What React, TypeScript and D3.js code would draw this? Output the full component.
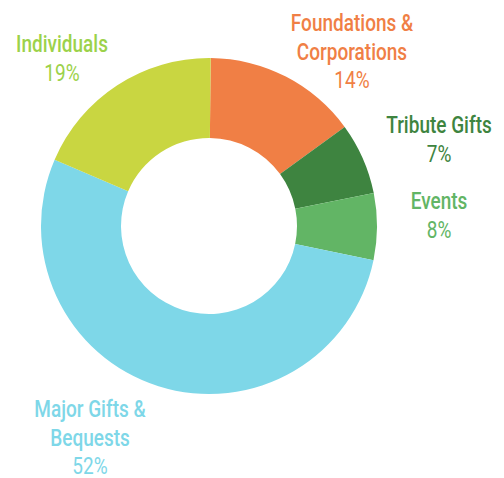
import React, { useEffect, useRef } from "react";
import * as d3 from "d3";

const categories = ["Foundations & Corporations", "Tribute Gifts", "Events", "Major Gifts & Bequests", "Individuals"];
const labelLines = [["Foundations &", "Corporations"], ["Tribute Gifts"], ["Events"], ["Major Gifts &", "Bequests"], ["Individuals"]];
const values = [14.8, 6.9, 6.4, 53.2, 18.7];
const pctLabels = ["14%", "7%", "8%", "52%", "19%"];
const sliceColors = ["#F07F45", "#3E8440", "#62B565", "#7ED7E8", "#C9D641"];
const textColors = ["#F07F45", "#3E8440", "#62B565", "#7ED7E8", "#9CD24A"];

const W = 504, H = 478;
const CX = 209, CY = 226, R_OUT = 168, R_IN = 88;
// label anchors (center x, first baseline y)
const labelAnchors: [number, number][] = [[352, 31], [439, 133], [439, 209], [90, 417], [62, 52]];
const LINE_H = 28.5;
const FONT = "Roboto, 'Noto Sans', sans-serif";
const FS = 23.5;

export default function App() {
  const ref = useRef<SVGSVGElement>(null);
  useEffect(() => {
    document.body.style.margin = "0";
    const svg = d3.select(ref.current);
    svg.selectAll("*").remove();
    const pie = d3.pie<number>().sort(null).startAngle(0.01).endAngle(0.01 + 2 * Math.PI);
    const arc = d3.arc<d3.PieArcDatum<number>>().innerRadius(R_IN).outerRadius(R_OUT);
    const g = svg.append("g").attr("transform", `translate(${CX},${CY})`);
    g.selectAll("path").data(pie(values)).join("path")
      .attr("d", arc as any)
      .attr("fill", (_d, i) => sliceColors[i]);

    // measure to condense the font to match the reference's narrow typeface
    const probe = svg.append("text").attr("font-family", FONT).attr("font-size", FS)
      .attr("font-weight", 500).text("Individuals");
    const len = (probe.node() as SVGTextElement).getComputedTextLength() || 118;
    probe.remove();
    const sx = 92 / len;

    categories.forEach((_c, i) => {
      const [x, y] = labelAnchors[i];
      const lines = labelLines[i];
      const add = (txt: string, yy: number, w: number) => {
        svg.append("text")
          .attr("transform", `translate(${x},${yy}) scale(${sx},1)`)
          .attr("text-anchor", "middle").attr("fill", textColors[i])
          .attr("font-family", FONT).attr("font-size", FS).attr("font-weight", w)
          .text(txt);
      };
      lines.forEach((ln, j) => add(ln, y + j * LINE_H, 500));
      add(pctLabels[i], y + lines.length * LINE_H, 400);
    });
  }, []);
  return <svg ref={ref} width={W} height={H} style={{ display: "block" }} />;
}
